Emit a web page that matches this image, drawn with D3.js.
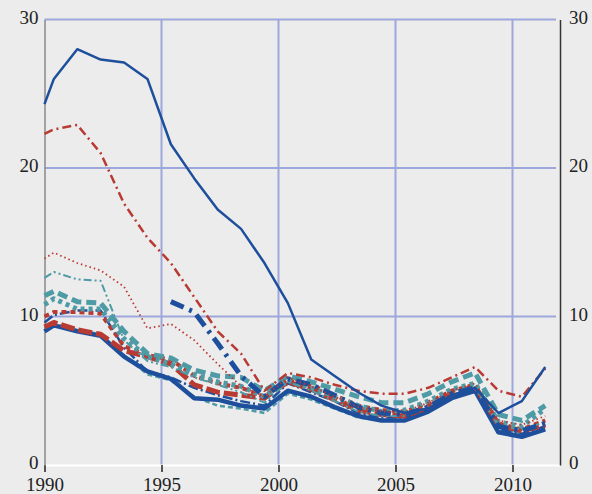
<!DOCTYPE html>
<html><head><meta charset="utf-8">
<script src="https://cdn.jsdelivr.net/npm/d3@7"></script>
<style>html,body{margin:0;padding:0;background:#ececec;}svg{display:block;}</style>
</head><body>
<svg id="c" width="592" height="494"></svg>
<script>
const years = [1990, 1990.4, 1991.4, 1992.4, 1993.4, 1994.4, 1995.4, 1996.4, 1997.4, 1998.4, 1999.4, 2000.4, 2001.4, 2002.4, 2003.4, 2004.4, 2005.4, 2006.4, 2007.4, 2008.4, 2009.4, 2010.4, 2011.4];
const xTicks = [1990, 1995, 2000, 2005, 2010];
const yTicks = [0, 10, 20, 30];

const tealDashThin   = [9.2, 9.5, 9.1, 8.8, 7.4, 6.1, 5.7, 4.6, 4.0, 3.8, 3.5, 4.8, 4.4, 3.8, 3.2, 3.0, 3.0, 3.6, 4.5, 5.0, 2.4, 2.1, 2.6];
const blueSolidThick = [9.0, 9.4, 9.0, 8.7, 7.3, 6.3, 5.8, 4.5, 4.4, 4.0, 3.8, 5.0, 4.6, 3.9, 3.3, 3.0, 3.0, 3.6, 4.5, 5.0, 2.2, 1.9, 2.4];
const blueDashThin   = [9.6, 10.1, 10.4, 10.4, 7.9, 6.3, 5.9, 5.2, 4.7, 4.3, 4.0, 5.5, 4.9, 4.3, 3.5, 3.2, 3.2, 3.8, 4.6, 5.1, 2.4, 2.1, 2.6];
const redLongDash    = [9.3, 9.6, 9.1, 8.8, 7.7, 7.3, 6.8, 5.4, 4.9, 4.7, 4.5, 5.6, 5.1, 4.4, 3.7, 3.4, 3.3, 3.9, 4.8, 5.3, 2.7, 2.3, 2.7];
const redDashMed     = [10.0, 10.3, 10.3, 10.2, 8.0, 7.4, 7.1, 6.0, 5.5, 5.2, 4.6, 5.8, 5.4, 4.7, 4.0, 3.7, 3.6, 4.2, 5.0, 5.4, 2.8, 2.4, 3.0];
const tealDotThick   = [10.8, 11.2, 10.5, 10.5, 8.5, 7.3, 6.8, 6.1, 5.6, 5.3, 4.6, 5.7, 5.2, 4.6, 4.0, 3.6, 3.7, 4.3, 5.1, 5.5, 2.9, 2.6, 3.8];
const tealDash       = [11.4, 11.7, 11.0, 10.9, 9.0, 7.5, 7.2, 6.4, 6.0, 5.9, 5.0, 6.0, 5.6, 5.1, 4.6, 4.2, 4.2, 4.8, 5.6, 6.2, 3.4, 3.0, 4.0];
const tealDashDotDot = [12.6, 13.0, 12.5, 12.4, 8.4, 7.0, 6.6, 5.9, 5.4, 4.9, 4.2, 5.6, 5.0, 4.3, 3.6, 3.3, 3.3, 3.9, 4.7, 5.2, 2.6, 2.4, 2.9];
const blueDashDot    = [null, null, null, null, null, null, 11.0, 10.3, 8.2, 6.0, 4.6, 5.8, 5.4, 4.7, 3.9, 3.5, 3.4, 3.9, 4.8, 5.2, 2.6, 2.3, 2.8];
const redDot         = [13.9, 14.3, 13.6, 13.1, 12.0, 9.2, 9.5, 8.4, 6.8, 5.3, 4.6, 5.9, 5.3, 4.6, 3.9, 3.6, 3.6, 4.2, 5.0, 5.5, 3.0, 2.7, 3.3];
const redDashDot     = [22.3, 22.6, 22.9, 21.0, 17.6, 15.3, 13.6, 11.3, 9.0, 7.5, 5.0, 6.2, 5.9, 5.4, 5.0, 4.8, 4.8, 5.2, 5.9, 6.6, 5.0, 4.6, 6.5];
const blueHigh       = [24.3, 26.0, 28.0, 27.3, 27.1, 26.0, 21.6, 19.3, 17.2, 15.9, 13.6, 10.9, 7.1, 6.0, 4.9, 4.0, 3.5, 3.8, 4.7, 5.2, 3.5, 4.3, 6.6];

const BLUE = "#1d4f9c", RED = "#b83a32", TEAL = "#4e9ba6";
const seriesList = [
  {v: tealDashThin,   c: TEAL, w: 2.5, d: "5,3"},
  {v: blueSolidThick, c: BLUE, w: 4.5, d: null},
  {v: blueDashThin,   c: BLUE, w: 2.5, d: "10,3,2,3"},
  {v: redLongDash,    c: RED,  w: 5,   d: "14,4"},
  {v: redDashMed,     c: RED,  w: 4,   d: "5,4"},
  {v: tealDotThick,   c: TEAL, w: 5,   d: "4,4"},
  {v: tealDash,       c: TEAL, w: 5,   d: "10,5"},
  {v: tealDashDotDot, c: TEAL, w: 2,   d: "8,3,2,3,2,3"},
  {v: blueDashDot,    c: BLUE, w: 5,   d: "14,6,3,6"},
  {v: redDot,         c: RED,  w: 1.8, d: "1.5,3"},
  {v: redDashDot,     c: RED,  w: 2.5, d: "9,4,2,4"},
  {v: blueHigh,       c: BLUE, w: 2.5, d: null}
];

const svg = d3.select("#c");
const L = 44.5, R = 560, T = 19.5, B = 465;
const x = d3.scaleLinear().domain([1990, 2012.03]).range([L, R]);
const y = d3.scaleLinear().domain([0, 30]).range([B, T]);

// grid
const g = svg.append("g");
g.selectAll("line.h").data(yTicks.filter(t => t > 0)).join("line")
  .attr("x1", L).attr("x2", R - 4).attr("y1", d => y(d)).attr("y2", d => y(d))
  .attr("stroke", "#9ea7dc").attr("stroke-width", 2);
g.selectAll("line.v").data(xTicks.filter(t => t > 1990)).join("line")
  .attr("x1", d => x(d)).attr("x2", d => x(d)).attr("y1", T).attr("y2", B)
  .attr("stroke", "#9ea7dc").attr("stroke-width", 2);

// axes
const axB = svg.append("g").attr("transform", `translate(0,${B})`)
  .call(d3.axisBottom(x).tickValues(xTicks).tickFormat(d3.format("d")).tickSize(7).tickPadding(6));
axB.select(".domain").attr("stroke", "#ffffff").attr("stroke-width", 2).attr("d", `M${L},0.5H${R}`);
axB.selectAll(".tick line").attr("stroke", "#222").attr("stroke-width", 1.5);
axB.selectAll("text").attr("font-family", "Liberation Serif, serif").attr("font-size", 19).attr("fill", "#222");

const axL = svg.append("g").attr("transform", `translate(${L},0)`)
  .call(d3.axisLeft(y).tickValues(yTicks).tickSize(0).tickPadding(6));
axL.select(".domain").attr("stroke", "#8a8a8a").attr("stroke-width", 1.5);
axL.selectAll("text").attr("font-family", "Liberation Serif, serif").attr("font-size", 19).attr("fill", "#222").attr("dy", "0.2em");

const axR = svg.append("g").attr("transform", `translate(${R},0)`)
  .call(d3.axisRight(y).tickValues(yTicks).tickSize(0).tickPadding(9));
axR.select(".domain").attr("stroke", "#333").attr("stroke-width", 1.5);
axR.selectAll("text").attr("font-family", "Liberation Serif, serif").attr("font-size", 19).attr("fill", "#222").attr("dy", "0.2em");

// lines
const line = d3.line().defined(d => d[1] != null).x(d => x(d[0])).y(d => y(d[1]));
const lg = svg.append("g");
seriesList.forEach(s => {
  lg.append("path")
    .attr("d", line(years.map((yr, i) => [yr, s.v[i]])))
    .attr("fill", "none").attr("stroke", s.c).attr("stroke-width", s.w)
    .attr("stroke-dasharray", s.d).attr("stroke-linejoin", "round");
});
</script>
</body></html>
